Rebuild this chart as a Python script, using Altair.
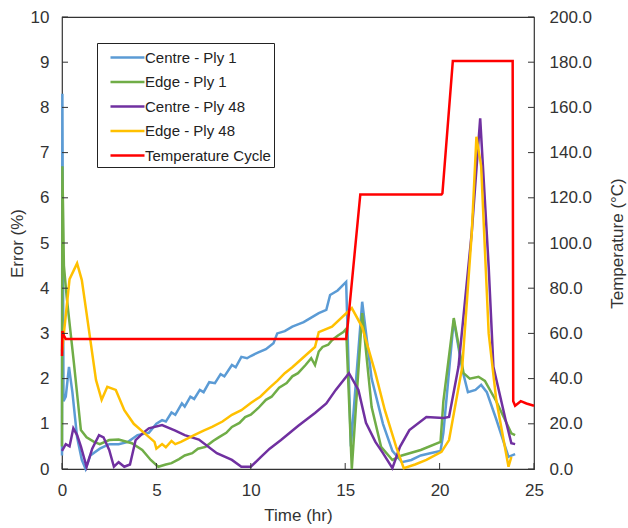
import altair as alt
import pandas as pd

# ---- data -----------------------------------------------------------------
# Centre - Ply 1 (error, %)
t_c1 = [0, 0.02, 0.08, 0.2, 0.37, 0.55, 0.8, 1.05, 1.25, 1.5, 2.0, 2.5, 3.0,
        3.5, 4.0, 4.6, 5.0, 5.3, 5.5, 5.8, 6.0, 6.35, 6.5, 6.8, 7.0, 7.3, 7.5,
        7.8, 8.1, 8.4, 8.6, 9.0, 9.2, 9.5, 9.8, 10.0, 10.4, 10.8, 11.2, 11.4,
        11.8, 12.2, 12.5, 12.8, 13.2, 13.6, 14.0, 14.2, 14.6, 15.05, 15.3,
        15.9, 16.4, 17.0, 17.5, 18.0, 18.5, 19.0, 19.5, 20.05, 20.2, 20.75,
        21.2, 21.5, 21.9, 22.2, 22.5, 23.0, 23.65, 24.0]
e_c1 = [0.3, 8.3, 1.5, 1.6, 2.26, 1.7, 0.7, 0.2, 0.0, 0.3, 0.45, 0.55, 0.55,
        0.6, 0.75, 0.8, 1.0, 1.08, 1.05, 1.25, 1.2, 1.45, 1.38, 1.6, 1.55,
        1.75, 1.7, 1.92, 1.9, 2.1, 2.05, 2.3, 2.25, 2.48, 2.45, 2.5, 2.58,
        2.65, 2.78, 3.0, 3.05, 3.15, 3.2, 3.25, 3.35, 3.45, 3.52, 3.85, 3.95,
        4.14, 0.5, 3.7, 2.0, 1.0, 0.4, 0.15, 0.2, 0.3, 0.35, 0.4, 0.8, 3.3,
        2.2, 1.7, 1.75, 1.86, 1.7, 1.1, 0.27, 0.33]

# Edge - Ply 1
t_e1 = [0, 0.02, 0.1, 0.25, 0.63, 1.0, 1.3, 1.7, 2.0, 2.5, 3.0, 3.7, 4.25,
        4.7, 5.1, 5.5, 5.8, 6.2, 6.5, 6.9, 7.2, 7.6, 8.0, 8.3, 8.7, 9.0, 9.4,
        9.7, 10.0, 10.4, 10.8, 11.1, 11.5, 11.9, 12.2, 12.5, 12.9, 13.2, 13.4,
        13.6, 13.8, 14.1, 14.3, 14.6, 14.9, 15.05, 15.35, 15.9, 16.4, 16.9,
        17.5, 18.0, 19.0, 20.05, 20.2, 20.75, 21.27, 21.6, 22.06, 22.4, 23.0,
        23.8, 24.0]
e_e1 = [0.5, 6.7, 4.5, 3.8, 2.35, 0.86, 0.7, 0.6, 0.55, 0.64, 0.65, 0.57, 0.42,
        0.2, 0.05, 0.1, 0.13, 0.22, 0.3, 0.35, 0.45, 0.49, 0.62, 0.7, 0.8,
        0.93, 1.02, 1.15, 1.2, 1.35, 1.53, 1.6, 1.8, 1.9, 2.05, 2.12, 2.3,
        2.45, 2.3, 2.6, 2.7, 2.75, 2.85, 2.95, 3.03, 3.1, 0.0, 3.45, 1.37,
        0.49, 0.2, 0.3, 0.42, 0.6, 1.5, 3.34, 2.12, 2.0, 2.04, 1.95, 1.5,
        0.79, 0.75]

# Centre - Ply 48
t_c48 = [0, 0.2, 0.4, 0.6, 0.8, 1.0, 1.3, 1.6, 1.96, 2.2, 2.5, 2.75, 3.0, 3.3,
         3.6, 3.9, 4.3, 4.6, 5.3, 6.0, 6.5, 7.25, 8.2, 9.0, 9.5, 10.0, 10.5,
         11.0, 11.6, 12.5, 13.4, 14.0, 14.5, 15.2, 15.7, 16.1, 16.6, 17.0,
         17.5, 17.9, 18.4, 19.3, 20.2, 20.5, 21.0, 21.7, 22.15, 22.6, 22.85,
         23.5, 23.8, 24.0]
e_c48 = [0.4, 0.55, 0.5, 0.9, 0.75, 0.5, 0.05, 0.45, 0.75, 0.7, 0.42, 0.05,
         0.15, 0.05, 0.1, 0.64, 0.8, 0.9, 0.97, 0.85, 0.75, 0.65, 0.35, 0.2,
         0.05, 0.05, 0.25, 0.45, 0.64, 0.95, 1.24, 1.45, 1.75, 2.12, 1.75, 1.02,
         0.6, 0.35, 0.02, 0.49, 0.86, 1.15, 1.13, 1.15, 2.26, 5.22, 7.76, 4.47,
         2.26, 1.08, 0.57, 0.55]

# Edge - Ply 48
t_e48 = [0, 0.1, 0.4, 0.8, 1.05, 1.3, 1.8, 2.1, 2.4, 2.85, 3.3, 3.8, 4.35, 4.9,
         5.0, 5.3, 5.5, 5.8, 6.0, 6.3, 7.0, 7.5, 7.95, 8.5, 9.0, 9.5, 10.0,
         10.5, 11.0, 11.4, 11.8, 12.2, 12.6, 13.0, 13.4, 13.6, 14.3, 15.35,
         15.9, 16.6, 17.1, 17.7, 18.1, 18.7, 19.3, 20.1, 20.5, 21.2, 21.7,
         21.95, 22.2, 22.6, 23.0, 23.65, 23.8]
e_e48 = [2.6, 3.0, 4.2, 4.55, 4.18, 3.45, 1.97, 1.53, 1.82, 1.75, 1.3, 1.0,
         0.8, 0.6, 0.45, 0.55, 0.48, 0.62, 0.55, 0.6, 0.75, 0.85, 0.93, 1.05,
         1.2, 1.3, 1.46, 1.6, 1.8, 1.95, 2.12, 2.25, 2.4, 2.55, 2.7, 3.03,
         3.15, 3.56, 3.14, 2.12, 1.3, 0.49, 0.02, 0.1, 0.2, 0.38, 0.64, 2.26,
         5.2, 7.35, 6.7, 3.0, 1.53, 0.05, 0.27]

# Temperature cycle (°C)
t_temp = [0, 0.02, 0.1, 0.2, 15.05, 15.15, 15.8, 20.1, 20.15, 20.7, 23.87,
          23.9, 24.0, 24.3, 24.6, 25.0]
temp_c = [50, 61, 59, 57.5, 57.5, 65, 121.5, 121.5, 122, 180.5, 180.5,
          30, 28, 30, 29, 28]

series_names = ["Centre - Ply 1", "Edge - Ply 1", "Centre - Ply 48",
                "Edge - Ply 48", "Temperature Cycle"]
series_colors = ["#5B9BD5", "#70AD47", "#7030A0", "#FFC000", "#FF0000"]

x_ticks = [0, 5, 10, 15, 20, 25]
err_ticks = list(range(0, 11))
temp_ticks = list(range(0, 201, 20))

W, H = 472, 452
FONT = "Liberation Sans"
TXT = "#333333"

x_scale = alt.Scale(domain=[0, 25], nice=False)
err_scale = alt.Scale(domain=[0, 10], nice=False)
temp_scale = alt.Scale(domain=[0, 200], nice=False)
color_scale = alt.Scale(domain=series_names, range=series_colors)

# long horizontal line swatch, wider than the row height
legend = alt.Legend(
    title=None, orient="none", legendX=35, legendY=26,
    symbolType="M-0.1,0H3.3", symbolSize=400, symbolStrokeWidth=2.5,
    symbolFillColor="transparent",
    labelFont=FONT, labelFontSize=15, labelColor="#222222", labelOffset=22,
    labelExpr="datum.label + '\u2003'",
    strokeColor="#222222", padding=3, rowPadding=4.5, labelLimit=300,
    fillColor="white",
)

x_axis = alt.Axis(title="Time (hr)", values=x_ticks, ticks=False,
                  domain=False, grid=False, labelPadding=13, titlePadding=9,
                  labelFlush=False)
err_axis = alt.Axis(title="Error (%)", values=err_ticks, ticks=False,
                    domain=False, grid=False, labelPadding=13)
temp_axis = alt.Axis(title="Temperature (°C)", orient="right",
                     values=temp_ticks, format=".1f", ticks=False,
                     domain=False, grid=False, labelPadding=15,
                     titleAngle=270, titleX=83, titleY=H / 2,
                     titleAlign="center", titleBaseline="middle")

X = alt.X("t:Q", scale=x_scale, axis=x_axis)


def err_line(ts, vals, name, first=False):
    df = pd.DataFrame({"t": ts, "v": vals, "series": name})
    return alt.Chart(df).mark_line(strokeWidth=2.5).encode(
        x=X,
        y=alt.Y("v:Q", scale=err_scale, axis=err_axis if first else None),
        color=alt.Color("series:N", scale=color_scale, legend=legend),
    )


temp_df = pd.DataFrame({"t": t_temp, "v": temp_c, "series": series_names[4]})
temp_line = alt.Chart(temp_df).mark_line(strokeWidth=2.5).encode(
    x=X,
    y=alt.Y("v:Q", scale=temp_scale, axis=temp_axis),
    color=alt.Color("series:N", scale=color_scale, legend=legend),
)

# inward tick marks on the left, bottom and right edges
left_ticks = alt.Chart(pd.DataFrame({"v": err_ticks})).mark_rule(
    color=TXT, strokeWidth=1).encode(
    y=alt.Y("v:Q", scale=err_scale, axis=None),
    x=alt.value(0), x2=alt.value(6))
bottom_ticks = alt.Chart(pd.DataFrame({"t": x_ticks})).mark_rule(
    color=TXT, strokeWidth=1).encode(
    x=X, y=alt.value(H - 6), y2=alt.value(H))
right_ticks = alt.Chart(pd.DataFrame({"v": temp_ticks})).mark_rule(
    color=TXT, strokeWidth=1).encode(
    y=alt.Y("v:Q", scale=temp_scale, axis=None),
    x=alt.value(W - 6), x2=alt.value(W))

chart = alt.layer(
    err_line(t_c1, e_c1, series_names[0], first=True),
    err_line(t_e1, e_e1, series_names[1]),
    err_line(t_c48, e_c48, series_names[2]),
    err_line(t_e48, e_e48, series_names[3]),
    temp_line,
    left_ticks, bottom_ticks, right_ticks,
).resolve_scale(
    y="independent"
).properties(
    width=W, height=H,
    autosize=alt.AutoSizeParams(type="none"),
    padding={"left": 62, "top": 17, "right": 94, "bottom": 59},
    background="white",
).configure_view(
    stroke=TXT, strokeWidth=1.2,
).configure_axis(
    labelFont=FONT, labelFontSize=17, labelColor=TXT,
    titleFont=FONT, titleFontSize=17, titleColor=TXT, titleFontWeight="normal",
)

chart.save("out.html", embed_options={"renderer": "svg", "actions": False})
